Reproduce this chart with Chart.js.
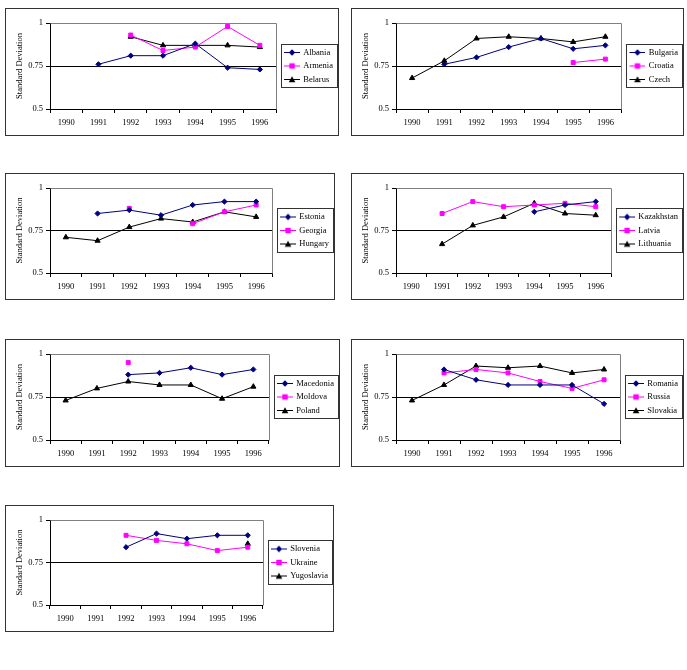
<!DOCTYPE html>
<html><head><meta charset="utf-8">
<script src="https://cdn.jsdelivr.net/npm/chart.js@4.4.1/dist/chart.umd.min.js"></script>
<style>
body{margin:0;background:#fff;width:687px;height:670px;position:relative;overflow:hidden}
.panel{position:absolute;border:1px solid #333;overflow:hidden;box-sizing:border-box;background:#fff}
.panel canvas{position:absolute;left:0;top:0}
</style></head><body>
<script>
// ---- data ----
const years = ['1990','1991','1992','1993','1994','1995','1996'];
const yTicks = [0.5, 0.75, 1];
const yTitle = 'Standard Deviation';

const albania    = [null,0.76,0.81,0.81,0.88,0.74,0.73];
const armenia    = [null,null,0.93,0.84,0.86,0.98,0.87];
const belarus    = [null,null,0.92,0.87,0.87,0.87,0.86];

const bulgaria   = [null,0.76,0.80,0.86,0.91,0.85,0.87];
const croatia    = [null,null,null,null,null,0.77,0.79];
const czech      = [0.68,0.78,0.91,0.92,0.91,0.89,0.92];

const estonia    = [null,0.85,0.87,0.84,0.90,0.92,0.92];
const georgia    = [null,null,0.88,null,0.79,0.86,0.90];
const hungary    = [0.71,0.69,0.77,0.82,0.80,0.86,0.83];

const kazakhstan = [null,null,null,null,0.86,0.90,0.92];
const latvia     = [null,0.85,0.92,0.89,0.90,0.91,0.89];
const lithuania  = [null,0.67,0.78,0.83,0.91,0.85,0.84];

const macedonia  = [null,null,0.88,0.89,0.92,0.88,0.91];
const moldova    = [null,null,0.95,null,null,null,null];
const poland     = [0.73,0.80,0.84,0.82,0.82,0.74,0.81];

const romania    = [null,0.91,0.85,0.82,0.82,0.82,0.71];
const russia     = [null,0.89,0.91,0.89,0.84,0.80,0.85];
const slovakia   = [0.73,0.82,0.93,0.92,0.93,0.89,0.91];

const slovenia   = [null,null,0.84,0.92,0.89,0.91,0.91];
const ukraine    = [null,null,0.91,0.88,0.86,0.82,0.84];
const yugoslavia = [null,null,null,null,null,null,0.86];

const groupNames = [
  ['Albania','Armenia','Belarus'],
  ['Bulgaria','Croatia','Czech'],
  ['Estonia','Georgia','Hungary'],
  ['Kazakhstan','Latvia','Lithuania'],
  ['Macedonia','Moldova','Poland'],
  ['Romania','Russia','Slovakia'],
  ['Slovenia','Ukraine','Yugoslavia']
];
const groupSeries = [
  [albania, armenia, belarus],
  [bulgaria, croatia, czech],
  [estonia, georgia, hungary],
  [kazakhstan, latvia, lithuania],
  [macedonia, moldova, poland],
  [romania, russia, slovakia],
  [slovenia, ukraine, yugoslavia]
];

// ---- layout & style ----
const boxes = [
  {x:5,   y:8,   w:334, h:128},
  {x:351, y:8,   w:333, h:128},
  {x:5,   y:173, w:330, h:127},
  {x:351, y:173, w:333, h:127},
  {x:5,   y:339, w:335, h:128},
  {x:351, y:339, w:333, h:128},
  {x:5,   y:505, w:329, h:127}
];
const colors = ['#000080', '#FF00FF', '#000000'];
const styles = ['rectRot', 'rect', 'triangle'];
const radii  = [2.6, 2.8, 3];
const EXTRA = 5; // canvas extends past the panel content on the right

Chart.defaults.font.family = '"Liberation Serif", "Times New Roman", serif';
Chart.defaults.font.size = 8.5;
Chart.defaults.color = '#000';

function icon(color, style){
  const c = document.createElement('canvas');
  c.width = 20; c.height = 9;
  const g = c.getContext('2d');
  const o = 4, m = o + 8;
  g.strokeStyle = color; g.lineWidth = 1;
  g.beginPath(); g.moveTo(o,4.5); g.lineTo(o+16,4.5); g.stroke();
  g.fillStyle = color; g.beginPath();
  if (style === 'rectRot') { g.moveTo(m,1.3); g.lineTo(m+3.2,4.5); g.lineTo(m,7.7); g.lineTo(m-3.2,4.5); }
  else if (style === 'rect') { g.rect(m-2.7,1.8,5.4,5.4); }
  else { g.moveTo(m,1.2); g.lineTo(m+3.3,7.2); g.lineTo(m-3.3,7.2); }
  g.closePath(); g.fill();
  return c;
}
const icons = colors.map((c,i) => icon(c, styles[i]));

const framePlugin = {
  id: 'frame',
  beforeDatasetsDraw(chart){
    const {ctx, chartArea:a} = chart;
    ctx.save();
    ctx.strokeStyle = '#808080'; ctx.lineWidth = 1;
    ctx.beginPath();
    ctx.moveTo(Math.round(a.left)+0.5, Math.round(a.top)+0.5);
    ctx.lineTo(Math.round(a.right)+0.5, Math.round(a.top)+0.5);
    ctx.lineTo(Math.round(a.right)+0.5, Math.round(a.bottom)+0.5);
    ctx.stroke();
    ctx.restore();
  },
  afterDraw(chart){
    const lg = chart.legend;
    if (!lg || !lg.legendHitBoxes || !lg.legendHitBoxes.length) return;
    const hb = lg.legendHitBoxes;
    const first = hb[0], last = hb[hb.length-1];
    const top = Math.round(first.top - 4.5);
    const bottom = Math.round(last.top + last.height + 3.5);
    const left = Math.round(lg.left + 5);
    const right = Math.round(lg.right - 6.5);
    const ctx = chart.ctx;
    ctx.save();
    ctx.strokeStyle = '#333'; ctx.lineWidth = 1;
    ctx.strokeRect(left+0.5, top+0.5, right-left, bottom-top);
    ctx.restore();
  }
};

boxes.forEach((b, p) => {
  const div = document.createElement('div');
  div.className = 'panel';
  div.style.left = b.x + 'px'; div.style.top = b.y + 'px';
  div.style.width = b.w + 'px'; div.style.height = b.h + 'px';
  const cv = document.createElement('canvas');
  const cw = b.w - 2 + EXTRA, ch = b.h - 2;
  cv.width = cw; cv.height = ch;
  cv.style.width = cw + 'px'; cv.style.height = ch + 'px';
  div.appendChild(cv);
  document.body.appendChild(div);

  const names = groupNames[p];
  const series = groupSeries[p];

  new Chart(cv, {
    type: 'line',
    data: {
      labels: years,
      datasets: series.map((d, i) => ({
        label: names[i],
        data: d,
        borderColor: colors[i],
        backgroundColor: colors[i],
        pointBackgroundColor: colors[i],
        pointBorderColor: colors[i],
        pointStyle: styles[i],
        pointRadius: radii[i],
        pointBorderWidth: 1,
        borderWidth: 1,
        tension: 0,
        spanGaps: false,
        fill: false
      }))
    },
    options: {
      responsive: false,
      animation: false,
      events: [],
      layout: { padding: { top: 14, left: 0, right: 0, bottom: 0 } },
      plugins: {
        tooltip: { enabled: false },
        legend: {
          position: 'right',
          fullSize: false,
          labels: {
            usePointStyle: true,
            pointStyleWidth: 18,
            padding: 5,
            color: '#000',
            font: { size: 8.5 },
            generateLabels: (chart) =>
              Chart.defaults.plugins.legend.labels.generateLabels(chart)
                .map((l, i) => Object.assign({}, l, { pointStyle: icons[i] }))
          }
        }
      },
      scales: {
        x: {
          type: 'category',
          offset: true,
          grid: { offset: true, drawOnChartArea: false, tickLength: 4, color: '#000', tickColor: '#000' },
          border: { color: '#000' },
          ticks: { padding: 5, color: '#000', maxRotation: 0, autoSkip: false },
          afterFit: (s) => { s.height = 26; }
        },
        y: {
          position: 'left',
          min: 0.5, max: 1,
          afterBuildTicks: (s) => { s.ticks = yTicks.map(v => ({ value: v })); },
          ticks: { callback: (v) => String(v), padding: 3, color: '#000' },
          grid: {
            color: (c) => (c.tick && c.tick.value === 0.75) ? '#000' : 'rgba(0,0,0,0)',
            tickColor: '#000',
            tickLength: 4
          },
          border: { color: '#000' },
          title: { display: true, text: yTitle, color: '#000', padding: { top: 9, bottom: 0 }, font: { size: 8.5 } },
          afterFit: (s) => { s.width = 44; }
        }
      }
    },
    plugins: [framePlugin]
  });
});
</script>
</body></html>
